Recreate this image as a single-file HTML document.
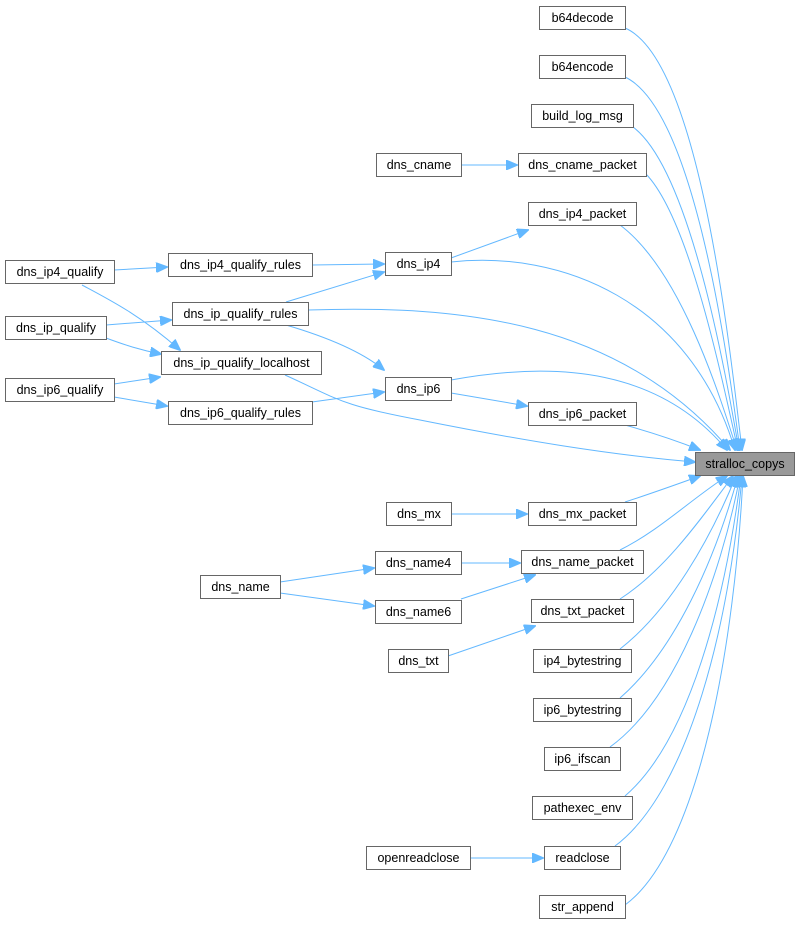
<!DOCTYPE html>
<html><head><meta charset="utf-8"><style>
html,body{margin:0;padding:0;background:#fff;}
svg{display:block;}
text{font-family:"Liberation Sans",Arial,sans-serif;font-size:12.5px;fill:#000;}
.n{fill:#fff;stroke:#666;stroke-width:1;}
.e{fill:none;stroke:#63b8ff;stroke-width:1;}
</style></head><body>
<svg width="799" height="926" viewBox="0 0 799 926" xmlns="http://www.w3.org/2000/svg">
<defs><marker id="a" markerWidth="12" markerHeight="10" refX="11" refY="5" orient="auto" markerUnits="userSpaceOnUse"><path d="M0,0 L12,5 L0,10 z" fill="#63b8ff" stroke="#63b8ff"/></marker></defs>
<g class="e" marker-end="url(#a)">
<path d="M625,28 C700,60 730,350 742,450"/>
<path d="M625,77 C695,110 728,360 740,450"/>
<path d="M633,127 C690,170 725,370 739,450"/>
<path d="M646,174 C690,220 722,380 738,450"/>
<path d="M620,225 C680,270 718,390 737,450"/>
<path d="M451,262 C560,250 690,300 735,450"/>
<path d="M308,310 C460,305 620,320 730,450"/>
<path d="M451,380 C560,360 660,370 727,450"/>
<path d="M625,425 C650,432 675,440 700,450"/>
<path d="M285,375 C340,400 340,405 420,420 C520,440 610,455 695,462"/>
<path d="M625,502 C650,494 675,485 700,476"/>
<path d="M620,550 C660,530 690,500 727,476"/>
<path d="M620,599 C665,570 700,520 733,476"/>
<path d="M620,649 C670,610 710,540 736,476"/>
<path d="M620,698 C675,650 715,560 738,476"/>
<path d="M610,747 C675,700 720,580 740,476"/>
<path d="M625,796 C690,740 725,600 741,476"/>
<path d="M615,846 C690,790 730,620 742,476"/>
<path d="M625,905 C700,850 735,640 743,476"/>
<path d="M461,165 L517,165"/>
<path d="M451,258 L528,230"/>
<path d="M312,265 L384,264"/>
<path d="M286,302 L384,272"/>
<path d="M286,325 C320,335 360,350 384,370"/>
<path d="M312,402 L384,392"/>
<path d="M451,393 L527,406"/>
<path d="M451,514 L527,514"/>
<path d="M461,563 L520,563"/>
<path d="M461,599 L535,575"/>
<path d="M448,656 L535,626"/>
<path d="M470,858 L543,858"/>
<path d="M280,582 L374,568"/>
<path d="M280,593 L374,606"/>
<path d="M114,270 L167,267"/>
<path d="M106,325 L171,320"/>
<path d="M82,285 C110,300 140,315 180,350"/>
<path d="M106,338 C125,345 140,350 161,354"/>
<path d="M114,384 L160,377"/>
<path d="M114,397 L167,406"/>
</g>
<g>
<rect class="n" x="539.5" y="6.5" width="86" height="23"/><text x="582.5" y="22" text-anchor="middle">b64decode</text>
<rect class="n" x="539.5" y="55.5" width="86" height="23"/><text x="582.5" y="71" text-anchor="middle">b64encode</text>
<rect class="n" x="531.5" y="104.5" width="102" height="23"/><text x="582.5" y="120" text-anchor="middle">build_log_msg</text>
<rect class="n" x="376.5" y="153.5" width="85" height="23"/><text x="419" y="169" text-anchor="middle">dns_cname</text>
<rect class="n" x="518.5" y="153.5" width="128" height="23"/><text x="582.5" y="169" text-anchor="middle">dns_cname_packet</text>
<rect class="n" x="528.5" y="202.5" width="108" height="23"/><text x="582.5" y="218" text-anchor="middle">dns_ip4_packet</text>
<rect class="n" x="385.5" y="252.5" width="66" height="23"/><text x="418.5" y="268" text-anchor="middle">dns_ip4</text>
<rect class="n" x="168.5" y="253.5" width="144" height="23"/><text x="240.5" y="269" text-anchor="middle">dns_ip4_qualify_rules</text>
<rect class="n" x="5.5" y="260.5" width="109" height="23"/><text x="60" y="276" text-anchor="middle">dns_ip4_qualify</text>
<rect class="n" x="172.5" y="302.5" width="136" height="23"/><text x="240.5" y="318" text-anchor="middle">dns_ip_qualify_rules</text>
<rect class="n" x="5.5" y="316.5" width="101" height="23"/><text x="56" y="332" text-anchor="middle">dns_ip_qualify</text>
<rect class="n" x="161.5" y="351.5" width="160" height="23"/><text x="241.5" y="367" text-anchor="middle">dns_ip_qualify_localhost</text>
<rect class="n" x="385.5" y="377.5" width="66" height="23"/><text x="418.5" y="393" text-anchor="middle">dns_ip6</text>
<rect class="n" x="5.5" y="378.5" width="109" height="23"/><text x="60" y="394" text-anchor="middle">dns_ip6_qualify</text>
<rect class="n" x="168.5" y="401.5" width="144" height="23"/><text x="240.5" y="417" text-anchor="middle">dns_ip6_qualify_rules</text>
<rect class="n" x="528.5" y="402.5" width="108" height="23"/><text x="582.5" y="418" text-anchor="middle">dns_ip6_packet</text>
<rect x="695.5" y="452.5" width="99" height="23" fill="#999" stroke="#666"/><text x="745" y="468" text-anchor="middle">stralloc_copys</text>
<rect class="n" x="386.5" y="502.5" width="65" height="23"/><text x="419" y="518" text-anchor="middle">dns_mx</text>
<rect class="n" x="528.5" y="502.5" width="108" height="23"/><text x="582.5" y="518" text-anchor="middle">dns_mx_packet</text>
<rect class="n" x="375.5" y="551.5" width="86" height="23"/><text x="418.5" y="567" text-anchor="middle">dns_name4</text>
<rect class="n" x="521.5" y="550.5" width="122" height="23"/><text x="582.5" y="566" text-anchor="middle">dns_name_packet</text>
<rect class="n" x="200.5" y="575.5" width="80" height="23"/><text x="240.5" y="591" text-anchor="middle">dns_name</text>
<rect class="n" x="375.5" y="600.5" width="86" height="23"/><text x="418.5" y="616" text-anchor="middle">dns_name6</text>
<rect class="n" x="531.5" y="599.5" width="102" height="23"/><text x="582.5" y="615" text-anchor="middle">dns_txt_packet</text>
<rect class="n" x="388.5" y="649.5" width="60" height="23"/><text x="418.5" y="665" text-anchor="middle">dns_txt</text>
<rect class="n" x="533.5" y="649.5" width="98" height="23"/><text x="582.5" y="665" text-anchor="middle">ip4_bytestring</text>
<rect class="n" x="533.5" y="698.5" width="98" height="23"/><text x="582.5" y="714" text-anchor="middle">ip6_bytestring</text>
<rect class="n" x="544.5" y="747.5" width="76" height="23"/><text x="582.5" y="763" text-anchor="middle">ip6_ifscan</text>
<rect class="n" x="532.5" y="796.5" width="100" height="23"/><text x="582.5" y="812" text-anchor="middle">pathexec_env</text>
<rect class="n" x="366.5" y="846.5" width="104" height="23"/><text x="418.5" y="862" text-anchor="middle">openreadclose</text>
<rect class="n" x="544.5" y="846.5" width="76" height="23"/><text x="582.5" y="862" text-anchor="middle">readclose</text>
<rect class="n" x="539.5" y="895.5" width="86" height="23"/><text x="582.5" y="911" text-anchor="middle">str_append</text>
</g>
</svg>
</body></html>
